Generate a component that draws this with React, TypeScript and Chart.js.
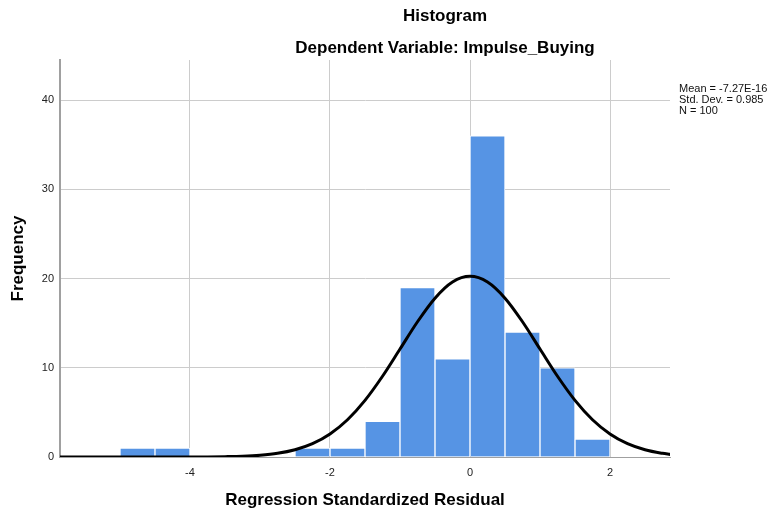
import React, { useEffect, useRef } from "react";
import { Chart, registerables } from "chart.js";

Chart.register(...registerables);

const BIN_WIDTH = 0.5;
const BIN_STARTS = [-5, -4.5, -2.5, -2, -1.5, -1, -0.5, 0, 0.5, 1, 1.5];
const BIN_COUNTS = [1, 1, 1, 1, 4, 19, 11, 36, 14, 10, 2];

const CURVE_X = [-5.86, -5.5, -5, -4.5, -4, -3.75, -3.5, -3.25, -3, -2.75, -2.5, -2.25, -2, -1.75, -1.5, -1.25, -1, -0.75, -0.5, -0.25, 0, 0.25, 0.5, 0.75, 1, 1.25, 1.5, 1.75, 2, 2.25, 2.5, 2.75, 2.86];
const CURVE_Y = [0, 0, 0, 0, 0, 0.01, 0.04, 0.09, 0.2, 0.41, 0.81, 1.49, 2.58, 4.18, 6.35, 9.05, 12.1, 15.16, 17.8, 19.61, 20.25, 19.61, 17.8, 15.16, 12.1, 9.05, 6.35, 4.18, 2.58, 1.49, 0.81, 0.41, 0.29];

const X_TICKS = [-4, -2, 0, 2];
const Y_TICKS = [0, 10, 20, 30, 40];
const X_MIN = -5.857;
const X_MAX = 2.857;
const Y_MAX = 44.5;

const TITLE = "Histogram";
const SUBTITLE = "Dependent Variable: Impulse_Buying";
const X_TITLE = "Regression Standardized Residual";
const Y_TITLE = "Frequency";
const STATS = ["Mean = -7.27E-16", "Std. Dev. = 0.985", "N = 100"];

const FONT = "'Liberation Sans', Arial, sans-serif";

export default function App() {
  const ref = useRef<HTMLCanvasElement | null>(null);

  useEffect(() => {
    if (!ref.current) return;
    const textPlugin = {
      id: "texts",
      afterDraw(chart: any) {
        const ctx = chart.ctx;
        ctx.save();
        ctx.fillStyle = "#000";
        ctx.textAlign = "center";
        ctx.textBaseline = "alphabetic";
        ctx.font = `bold 17px ${FONT}`;
        ctx.fillText(TITLE, 445, 21);
        ctx.fillText(SUBTITLE, 445, 53);
        ctx.textAlign = "left";
        ctx.font = `11px ${FONT}`;
        ctx.fillStyle = "#111";
        STATS.forEach((s, i) => ctx.fillText(s, 679, 92 + i * 11));
        ctx.restore();
      },
    };

    const chart = new Chart(ref.current, {
      type: "bar",
      data: {
        datasets: [
          {
            type: "line",
            data: CURVE_X.map((x, i) => ({ x, y: CURVE_Y[i] })),
            borderColor: "#000",
            borderWidth: 3,
            pointRadius: 0,
            cubicInterpolationMode: "monotone",
            fill: false,
            order: 0,
          } as any,
          {
            type: "bar",
            data: BIN_STARTS.map((s, i) => ({ x: s + BIN_WIDTH / 2, y: BIN_COUNTS[i] })),
            backgroundColor: "#5694E4",
            borderColor: "#ffffff",
            borderWidth: 1,
            barPercentage: 1,
            categoryPercentage: 1,
            order: 1,
          } as any,
        ],
      },
      options: {
        animation: false,
        responsive: false,
        devicePixelRatio: 1,
        layout: { padding: { top: 60, right: 104, left: 0, bottom: 0 } },
        plugins: { legend: { display: false }, tooltip: { enabled: false } },
        scales: {
          x: {
            type: "linear",
            min: X_MIN,
            max: X_MAX,
            offset: false,
            afterBuildTicks: (scale: any) => {
              scale.ticks = X_TICKS.map((v) => ({ value: v }));
            },
            afterFit: (scale: any) => {
              scale.height = 59;
            },
            grid: { offset: false, color: "#cccccc", lineWidth: 1, drawTicks: false },
            border: { color: "#a0a0a0", width: 1 },
            ticks: {
              padding: 9,
              autoSkip: false,
              maxRotation: 0,
              color: "#222",
              font: { family: FONT, size: 11 },
            },
            title: {
              display: true,
              text: X_TITLE,
              color: "#000",
              font: { family: FONT, size: 17, weight: "bold" },
              padding: { top: 0, bottom: 5 },
            },
          },
          y: {
            type: "linear",
            min: 0,
            max: Y_MAX,
            afterBuildTicks: (scale: any) => {
              scale.ticks = Y_TICKS.map((v) => ({ value: v }));
            },
            afterFit: (scale: any) => {
              scale.width = 60;
            },
            grid: { color: "#cccccc", lineWidth: 1, drawTicks: false },
            border: { color: "#a0a0a0", width: 2 },
            ticks: {
              padding: 6,
              color: "#222",
              font: { family: FONT, size: 11 },
            },
            title: {
              display: true,
              text: Y_TITLE,
              color: "#000",
              font: { family: FONT, size: 17, weight: "bold" },
              padding: { top: 8, bottom: 0 },
            },
          },
        },
      } as any,
      plugins: [textPlugin],
    });
    return () => chart.destroy();
  }, []);

  return (
    <div style={{ position: "absolute", left: 0, top: 0, width: 774, height: 516, background: "#fff" }}>
      <canvas ref={ref} width={774} height={516} style={{ width: 774, height: 516, display: "block" }} />
    </div>
  );
}
